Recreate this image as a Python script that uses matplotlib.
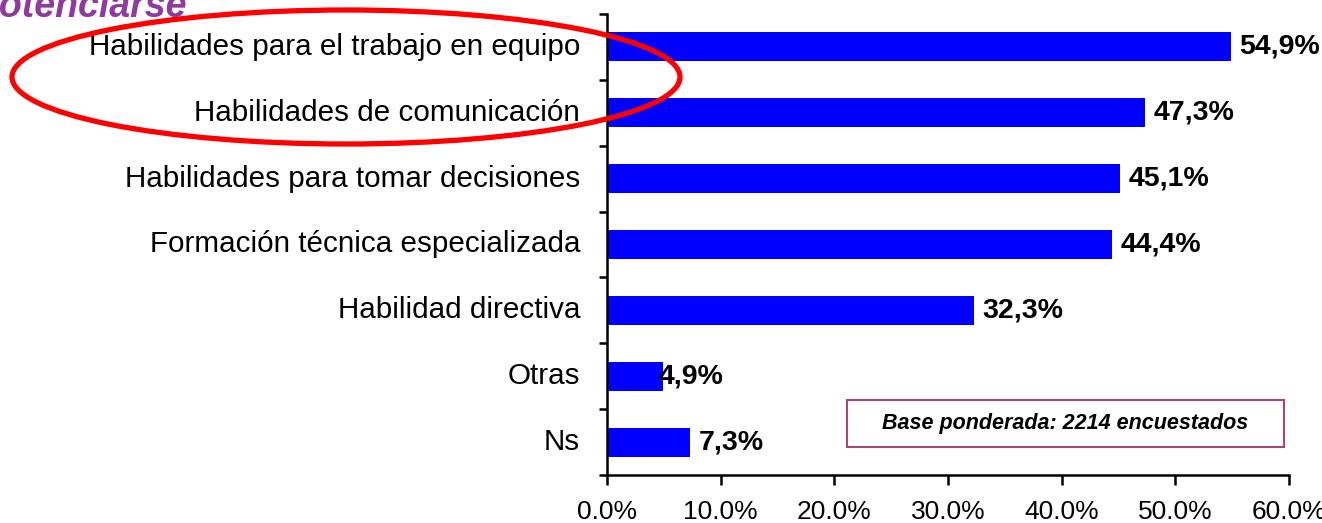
import numpy as np
import matplotlib
matplotlib.use("Agg")
import matplotlib.pyplot as plt
import matplotlib.patches as mpatches

# Datos
categorias = [
    "Habilidades para el trabajo en equipo",
    "Habilidades de comunicación",
    "Habilidades para tomar decisiones",
    "Formación técnica especializada",
    "Habilidad directiva",
    "Otras",
    "Ns",
]
valores = [54.9, 47.3, 45.1, 44.4, 32.3, 4.9, 7.3]
xticks = [0, 10, 20, 30, 40, 50, 60]
nota = "Base ponderada: 2214 encuestados"
titulo = "potenciarse"

AZUL = "#0000FF"
MORADO = "#8E3A9E"
ROJO = "#FF0000"
BORDE = "#A3467A"

plt.rcParams["font.family"] = ["Liberation Sans", "DejaVu Sans"]

W, H = 1322, 523
fig = plt.figure(figsize=(W / 100, H / 100), dpi=100)
ax = fig.add_axes([607 / W, 1 - 475 / H, (1289 - 607) / W, (475 - 14) / H])

y = np.arange(len(categorias))
ax.barh(y, valores, height=0.44, color=AZUL, zorder=2)
ax.set_ylim(len(categorias) - 0.5, -0.5)
ax.set_xlim(0, 60)

for spine in ["top", "right"]:
    ax.spines[spine].set_visible(False)
for spine in ["left", "bottom"]:
    ax.spines[spine].set_linewidth(1.8)

# etiquetas de categoría como texto, ticks en los límites
ax.set_yticks(np.arange(len(categorias) + 1) - 0.5)
ax.set_yticklabels([])
ax.tick_params(axis="y", direction="out", length=6, width=1.8)
for i, cat in enumerate(categorias):
    ax.text(-27 / 11.37, i, cat, ha="right", va="center", fontsize=21.3)

ax.set_xticks(xticks)
ax.set_xticklabels([f"{t:.1f}%" for t in xticks], fontsize=19)
ax.tick_params(axis="x", direction="out", length=7, width=1.8, pad=11)

for i, v in enumerate(valores):
    off = 0.75 if v > 6 else -0.35
    ax.text(v + off, i, f"{v:.1f}%".replace(".", ","), ha="left", va="center",
            fontsize=20.5, fontweight="bold", zorder=3)

# recuadro de nota
fig.add_artist(mpatches.Rectangle(
    (847 / W, 1 - 447 / H), (1284 - 847) / W, 47 / H,
    transform=fig.transFigure, facecolor="white", edgecolor=BORDE, linewidth=1.5))
fig.text((847 + 1284) / 2 / W, 1 - 424 / H, nota, ha="center", va="center",
         fontsize=15.5, fontweight="bold", fontstyle="italic")

# título recortado
fig.text(187 / W, 1 - 17 / H, titulo, ha="right", va="baseline", fontsize=27,
         fontweight="bold", fontstyle="italic", color=MORADO)

# elipse roja
fig.add_artist(mpatches.Ellipse(
    (346 / 100, (H - 77) / 100), 6.68, 1.34, transform=fig.dpi_scale_trans,
    fill=False, edgecolor=ROJO, linewidth=3.8, zorder=5))

fig.savefig("out.png", dpi=100, facecolor="white")
